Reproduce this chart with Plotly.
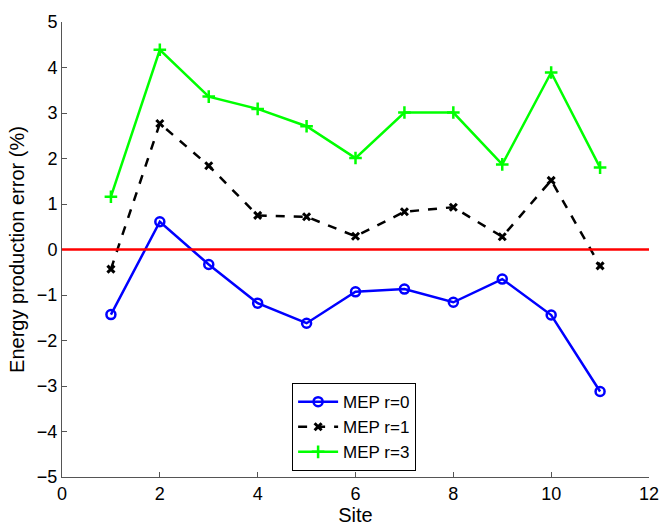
import plotly.graph_objects as go

sites = [1, 2, 3, 4, 5, 6, 7, 8, 9, 10, 11]
mep_r0 = [-1.43, 0.61, -0.33, -1.18, -1.62, -0.93, -0.87, -1.16, -0.65, -1.44, -3.12]
mep_r1 = [-0.43, 2.77, 1.84, 0.75, 0.72, 0.29, 0.83, 0.93, 0.28, 1.52, -0.36]
mep_r3 = [1.16, 4.39, 3.36, 3.09, 2.71, 2.01, 3.01, 3.01, 1.87, 3.89, 1.80]

font_family = "Liberation Sans, Arial, sans-serif"

fig = go.Figure()

fig.add_trace(go.Scatter(
    x=sites, y=mep_r0, name="MEP r=0", mode="lines+markers",
    line=dict(color="#0000ff", width=2.5),
    marker=dict(symbol="circle-open", size=9, color="#0000ff", line=dict(width=2.5)),
))
fig.add_trace(go.Scatter(
    x=sites, y=mep_r1, name="MEP r=1", mode="lines+markers",
    line=dict(color="#000000", width=2.5, dash="dash"),
    marker=dict(symbol="x-thin-open", size=7, color="#000000", line=dict(width=3)),
))
fig.add_trace(go.Scatter(
    x=sites, y=mep_r3, name="MEP r=3", mode="lines+markers",
    line=dict(color="#00ff00", width=2.5),
    marker=dict(symbol="cross-thin-open", size=9, color="#00ff00", line=dict(width=2.5)),
))

# zero reference line across the full axis width
fig.add_shape(type="line", xref="paper", yref="y", x0=0, x1=1, y0=0, y1=0,
              line=dict(color="#ff0000", width=2.5), layer="above")

axis_common = dict(
    showgrid=False, zeroline=False, showline=True, linecolor="#555555", linewidth=1,
    ticks="inside", ticklen=5, tickcolor="#555555",
    tickfont=dict(family=font_family, size=18, color="#000000"),
    mirror=False,
)

fig.update_layout(
    width=671, height=530,
    margin=dict(l=62, r=13, t=13, b=47),
    paper_bgcolor="white", plot_bgcolor="white",
    font=dict(family=font_family, color="#000000"),
    xaxis=dict(range=[0, 12], dtick=2,
               title=dict(text="Site", font=dict(size=20), standoff=0),
               **axis_common),
    yaxis=dict(range=[-5, 5], dtick=1,
               title=dict(text="Energy production error (%)", font=dict(size=20), standoff=6),
               **axis_common),
    legend=dict(x=0.392, y=0.013, xanchor="left", yanchor="bottom",
                bgcolor="white", bordercolor="#000000", borderwidth=1,
                font=dict(family=font_family, size=17), tracegroupgap=0,
                itemwidth=40),
    showlegend=True,
)

fig.write_html("out.html")
